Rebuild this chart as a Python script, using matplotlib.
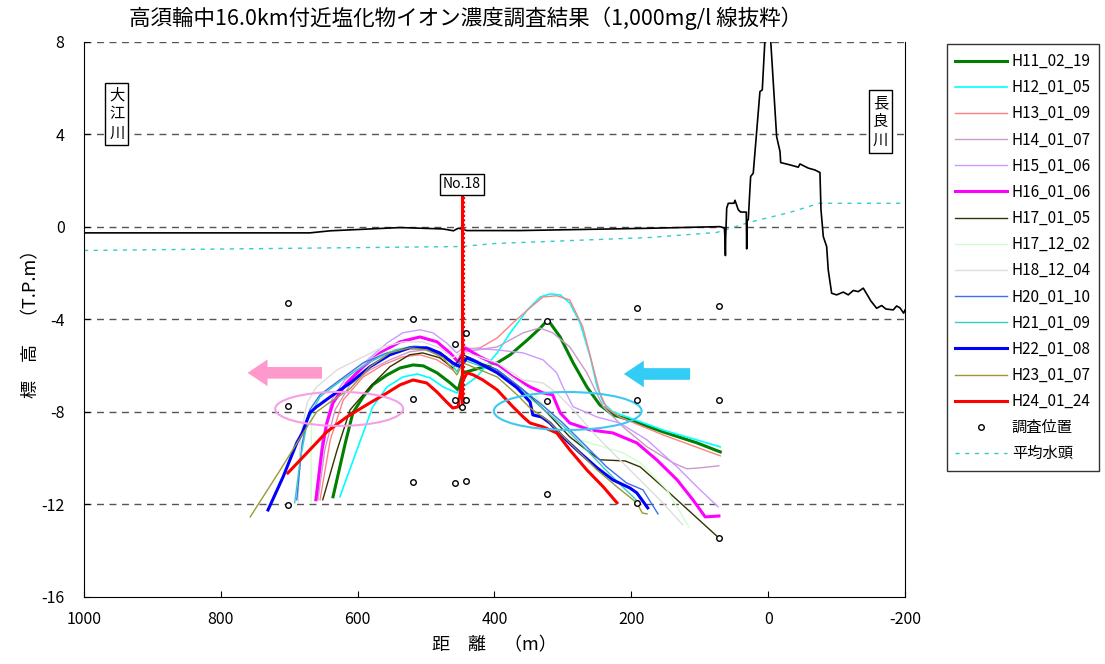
import matplotlib.pyplot as plt
from matplotlib.patches import Ellipse

plt.rcParams['font.family'] = ['Noto Sans CJK JP', 'DejaVu Sans']
plt.rcParams['axes.unicode_minus'] = False

# distance (m) and elevation (T.P.m)
h11_d = [636, 618, 607, 592, 578, 557, 538, 519, 504, 484, 465, 453, 446, 421, 396, 377, 352, 333, 322, 304, 285, 265, 246, 227, 202, 154, 104, 70]
h11_v = [-11.67, -9.34, -8.04, -7.35, -6.83, -6.40, -6.10, -5.97, -6.01, -6.31, -6.74, -7.05, -6.31, -6.10, -5.88, -5.53, -4.89, -4.37, -4.02, -4.76, -5.88, -6.92, -7.70, -8.13, -8.35, -8.86, -9.34, -9.73]

h12_d = [626, 601, 578, 557, 534, 513, 494, 475, 455, 446, 426, 396, 377, 352, 333, 319, 304, 290, 275, 260, 250, 241, 227, 202, 154, 70]
h12_v = [-11.67, -9.64, -7.78, -6.92, -6.49, -6.36, -6.53, -6.92, -7.18, -6.92, -6.49, -5.45, -4.58, -3.59, -3.03, -2.90, -2.94, -3.29, -4.15, -5.62, -6.92, -7.61, -8.00, -8.26, -8.78, -9.51]

h13_d = [655, 640, 621, 592, 563, 534, 509, 484, 461, 446, 421, 396, 373, 348, 329, 309, 290, 271, 256, 246, 236, 217, 154, 70]
h13_v = [-11.80, -9.21, -7.48, -6.49, -5.97, -5.62, -5.53, -5.75, -6.18, -5.32, -5.23, -4.80, -4.15, -3.50, -3.03, -2.98, -3.16, -4.32, -6.05, -7.18, -7.83, -8.22, -8.99, -9.90]

h14_d = [658, 648, 633, 611, 582, 553, 524, 502, 480, 458, 446, 396, 358, 334, 315, 290, 265, 241, 212, 177, 139, 119, 100, 72]
h14_v = [-11.80, -9.64, -7.91, -6.83, -6.18, -5.75, -5.40, -5.32, -5.53, -5.97, -5.41, -5.19, -4.58, -4.37, -4.58, -5.19, -6.31, -7.78, -8.65, -9.51, -10.20, -10.46, -10.42, -10.33]

h15_d = [662, 652, 638, 619, 589, 557, 534, 509, 490, 470, 455, 446, 396, 358, 329, 309, 300, 285, 250, 217, 177, 133, 104, 73]
h15_v = [-11.80, -9.21, -7.48, -6.62, -5.84, -5.02, -4.58, -4.45, -4.58, -5.02, -5.45, -5.23, -5.32, -5.45, -5.75, -6.31, -6.92, -7.78, -8.22, -8.48, -9.21, -10.38, -11.24, -12.11]

h16_d = [661, 652, 645, 636, 616, 592, 567, 538, 509, 484, 465, 453, 443, 421, 396, 373, 348, 329, 315, 304, 290, 260, 227, 192, 163, 133, 110, 92, 72]
h16_v = [-11.80, -9.64, -8.48, -7.61, -6.75, -6.05, -5.45, -4.97, -4.76, -4.97, -5.45, -5.84, -5.23, -5.62, -5.97, -6.49, -6.92, -7.18, -7.26, -8.04, -8.48, -8.78, -8.91, -9.34, -10.07, -10.94, -11.80, -12.54, -12.50]

h17a_d = [651, 630, 611, 582, 553, 524, 505, 480, 461, 446, 396, 358, 323, 290, 260, 246, 209, 187, 154, 114, 72]
h17a_v = [-11.80, -9.64, -7.91, -6.92, -6.05, -5.53, -5.45, -5.66, -6.10, -5.53, -6.18, -7.05, -8.04, -9.08, -9.77, -10.07, -10.12, -10.38, -11.24, -12.32, -13.45]

h17b_d = [668, 668, 667, 660, 640, 611, 582, 553, 524, 494, 470, 455, 446, 396, 348, 309, 275, 241, 212, 187, 148, 116]
h17b_v = [-11.89, -9.64, -7.91, -7.48, -6.92, -6.31, -5.75, -5.32, -5.19, -5.32, -5.75, -6.18, -5.62, -6.05, -7.05, -8.35, -9.21, -9.51, -9.77, -10.20, -11.37, -12.97]

h18_d = [687, 684, 674, 660, 630, 592, 563, 534, 505, 480, 461, 446, 396, 358, 329, 309, 285, 250, 217, 183, 154, 125]
h18_v = [-11.89, -9.21, -7.61, -6.92, -6.18, -5.62, -5.19, -4.97, -4.97, -5.23, -5.66, -5.40, -5.88, -6.62, -6.75, -7.18, -7.91, -9.08, -10.07, -11.07, -11.93, -12.88]

h20_d = [689, 681, 670, 655, 626, 592, 557, 524, 499, 475, 455, 446, 396, 358, 334, 300, 271, 236, 207, 183, 161]
h20_v = [-11.80, -9.34, -7.91, -7.26, -6.62, -5.88, -5.45, -5.23, -5.27, -5.62, -6.05, -5.66, -6.18, -7.05, -7.61, -8.48, -9.34, -10.38, -11.07, -11.37, -12.41]

h21_d = [692, 684, 673, 655, 619, 582, 545, 516, 494, 470, 455, 446, 396, 358, 334, 300, 271, 239, 214, 193]
h21_v = [-11.93, -10.07, -8.35, -7.35, -6.53, -5.84, -5.32, -5.15, -5.23, -5.62, -6.27, -5.75, -6.27, -7.14, -7.74, -8.60, -9.47, -10.46, -11.20, -11.80]

h22_d = [731, 709, 689, 681, 670, 660, 640, 611, 582, 553, 524, 499, 480, 461, 450, 440, 426, 396, 367, 348, 344, 331, 319, 300, 275, 250, 227, 202, 192, 176]
h22_v = [-12.24, -10.81, -9.34, -8.91, -8.04, -7.78, -7.35, -6.75, -6.05, -5.53, -5.23, -5.23, -5.45, -5.88, -6.05, -5.66, -5.84, -6.31, -6.96, -7.57, -8.13, -8.22, -8.48, -9.08, -9.77, -10.42, -10.94, -11.29, -11.50, -12.15]

h23_d = [757, 714, 674, 660, 640, 611, 582, 553, 524, 499, 475, 455, 446, 396, 367, 348, 323, 290, 250, 221, 192, 184, 177]
h23_v = [-12.54, -10.55, -8.65, -8.00, -7.57, -7.00, -6.05, -5.45, -5.23, -5.32, -5.66, -6.40, -5.88, -6.49, -7.26, -7.83, -8.35, -9.34, -10.51, -11.24, -11.93, -12.37, -12.41]

h24_d = [702, 674, 645, 616, 582, 557, 538, 519, 499, 484, 470, 461, 453, 448, 440, 431, 417, 396, 373, 358, 348, 329, 309, 290, 265, 241, 221]
h24_v = [-10.64, -9.77, -8.86, -8.22, -7.61, -7.18, -6.83, -6.62, -6.75, -7.14, -7.57, -7.83, -7.78, -6.75, -6.31, -6.40, -6.62, -7.05, -7.78, -8.22, -8.48, -8.65, -8.91, -9.64, -10.51, -11.24, -11.93]

labels = ['H11_02_19', 'H12_01_05', 'H13_01_09', 'H14_01_07', 'H15_01_06', 'H16_01_06', 'H17_01_05',
          'H17_12_02', 'H18_12_04', 'H20_01_10', 'H21_01_09', 'H22_01_08', 'H23_01_07', 'H24_01_24']

# survey positions
pt_d = [702, 702, 702, 519, 519, 519, 458, 458, 458, 442, 442, 442, 447, 323, 323, 323, 191, 191, 191, 72, 72, 72]
pt_v = [-3.29, -7.74, -12.02, -4.00, -7.44, -11.03, -5.06, -7.48, -11.06, -4.60, -7.48, -11.00, -7.77,
        -4.09, -7.55, -11.55, -3.52, -7.48, -11.95, -3.40, -7.48, -13.46]

# ground / levee profile
gr_d = [1000, 670, 640, 538, 475, 460, 453, 446, 441, 363, 173, 70.4, 64, 63.1, 62.5, 62.1, 60.6, 58.3, 50, 48.5,
        43.7, 40.2, 32, 31.4, 30.8, 29.1, 25.6, 21.8, 12.0, 8.6, 4.7, 0.5, -3.6, -12.4, -17.3, -18.3, -31.9, -44,
        -46.5, -58.6, -68.4, -75.7, -77.2, -80.6, -85.5, -87.8, -92.8, -100.1, -109.8, -117.1, -124.4, -131.7,
        -139, -146.3, -150, -158.6, -165.9, -172, -182.8, -187.8, -192.6, -198, -200]
gr_v = [-0.26, -0.26, -0.17, -0.03, -0.09, -0.17, -0.06, -0.10, -0.16, -0.16, -0.06, 0.01, -0.05, -0.49, -1.24,
        -0.5, 0.81, 1.02, 1.02, 1.15, 0.74, 0.64, 0.64, -0.95, 0.30, 0.30, 2.18, 2.32, 5.85, 5.92, 8.1, 9.5, 8.1,
        3.9, 3.26, 2.78, 2.68, 2.58, 2.72, 2.54, 2.46, 2.35, 0.74, -0.42, -0.85, -1.86, -2.87, -2.94, -2.82,
        -2.94, -2.75, -2.80, -2.65, -3.01, -3.2, -3.52, -3.40, -3.55, -3.59, -3.42, -3.5, -3.73, -3.6]

# mean water head
wl_d = [1000, 448, 400, 173, 75, 27, -31, -75, -200]
wl_v = [-1.02, -0.85, -0.72, -0.46, -0.24, 0.20, 0.62, 1.02, 1.02]

no18_d = 447.5
no18_top, no18_bot = 1.3, -7.85

series = [
    (h11_d, h11_v, '#008000', 2.2),
    (h12_d, h12_v, '#00FFFF', 1.2),
    (h13_d, h13_v, '#FF8080', 1.0),
    (h14_d, h14_v, '#CC99CC', 1.0),
    (h15_d, h15_v, '#CC99FF', 1.0),
    (h16_d, h16_v, '#FF00FF', 2.2),
    (h17a_d, h17a_v, '#333300', 1.0),
    (h17b_d, h17b_v, '#CCFFCC', 1.0),
    (h18_d, h18_v, '#DDDDDD', 1.0),
    (h20_d, h20_v, '#3F6FF0', 1.0),
    (h21_d, h21_v, '#33CCCC', 1.0),
    (h22_d, h22_v, '#0000FF', 2.2),
    (h23_d, h23_v, '#999933', 1.0),
    (h24_d, h24_v, '#FF0000', 2.2),
]

fig = plt.figure(figsize=(11.05, 6.64), dpi=100)
ax = fig.add_axes([0.076, 0.101, 0.743, 0.836])

ax.set_xlim(1000, -200)
ax.set_ylim(-16, 8)
ax.set_xticks(range(1000, -201, -200))
ax.set_yticks(range(-16, 9, 4))
for y in range(-12, 9, 4):
    ax.axhline(y, color='#555555', lw=1, ls=(0, (5, 4)), zorder=0)
ax.spines['top'].set_visible(False)
ax.tick_params(axis='both', direction='in', length=4, labelsize=11.5)
ax.tick_params(axis='y', pad=14)
ax.tick_params(axis='x', pad=10)

ax.plot(gr_d, gr_v, color='black', lw=1.2, zorder=3)

handles = []
for (d, v, c, lw), lab in zip(series, labels):
    h, = ax.plot(d, v, color=c, lw=lw, label=lab, zorder=4)
    handles.append(h)

ax.plot([no18_d, no18_d], [no18_top, no18_bot], color='red', lw=2.2, zorder=5)
ax.plot([no18_d - 2.5, no18_d - 2.5], [no18_top, no18_bot], color='red', lw=1.6, ls=(0, (1, 1)), zorder=5)
ax.text(no18_d, 1.85, 'No.18', ha='center', va='center', fontsize=10,
        bbox=dict(boxstyle='square,pad=0.25', fc='white', ec='black', lw=1), zorder=6)

pts, = ax.plot(pt_d, pt_v, ls='none', marker='o', ms=4, mfc='white', mec='black', mew=1, label='調査位置', zorder=6)
wl, = ax.plot(wl_d, wl_v, color='#33CCCC', lw=1, ls=(0, (3, 4)), label='平均水頭', zorder=2)
handles += [pts, wl]

ax.add_patch(Ellipse((627, -7.87), 187, 1.47, fill=False, ec='#F5A0E6', lw=1.5, zorder=5))
ax.add_patch(Ellipse((293, -7.96), 216, 1.64, fill=False, ec='#3CC8F0', lw=1.5, zorder=5))

ax.annotate('', xy=(765, -6.31), xytext=(648, -6.31),
            arrowprops=dict(arrowstyle='simple,head_length=1.2,head_width=1.6,tail_width=0.7',
                            mutation_scale=12, color='#FF99CC', lw=0))
ax.annotate('', xy=(215, -6.36), xytext=(110, -6.36),
            arrowprops=dict(arrowstyle='simple,head_length=1.2,head_width=1.6,tail_width=0.7',
                            mutation_scale=12, color='#33CCF5', lw=0))

ax.text(0.040, 0.870, '大\n江\n川', transform=ax.transAxes, ha='center', va='center', fontsize=11,
        linespacing=1.15, bbox=dict(boxstyle='square,pad=0.25', fc='white', ec='black', lw=1), zorder=6)
ax.text(0.970, 0.856, '長\n良\n川', transform=ax.transAxes, ha='center', va='center', fontsize=11,
        linespacing=1.15, bbox=dict(boxstyle='square,pad=0.25', fc='white', ec='black', lw=1), zorder=6)

ax.set_xlabel('距　離　（m）', fontsize=13, labelpad=6)
ax.set_ylabel('標　高　（T.P.m）', fontsize=13, labelpad=1)

fig.text(0.421, 0.973, '高須輪中16.0km付近塩化物イオン濃度調査結果（1,000mg/l 線抜粋）',
         ha='center', va='center', fontsize=15.5)

leg = fig.legend(handles=handles, loc='upper left', bbox_to_anchor=(0.857, 0.933), fontsize=11,
                 handlelength=3.4, handletextpad=0.3, labelspacing=0.6, borderpad=0.55, borderaxespad=0,
                 frameon=True, fancybox=False, edgecolor='black')
leg.get_frame().set_linewidth(1)

fig.savefig('out.png', dpi=100)
